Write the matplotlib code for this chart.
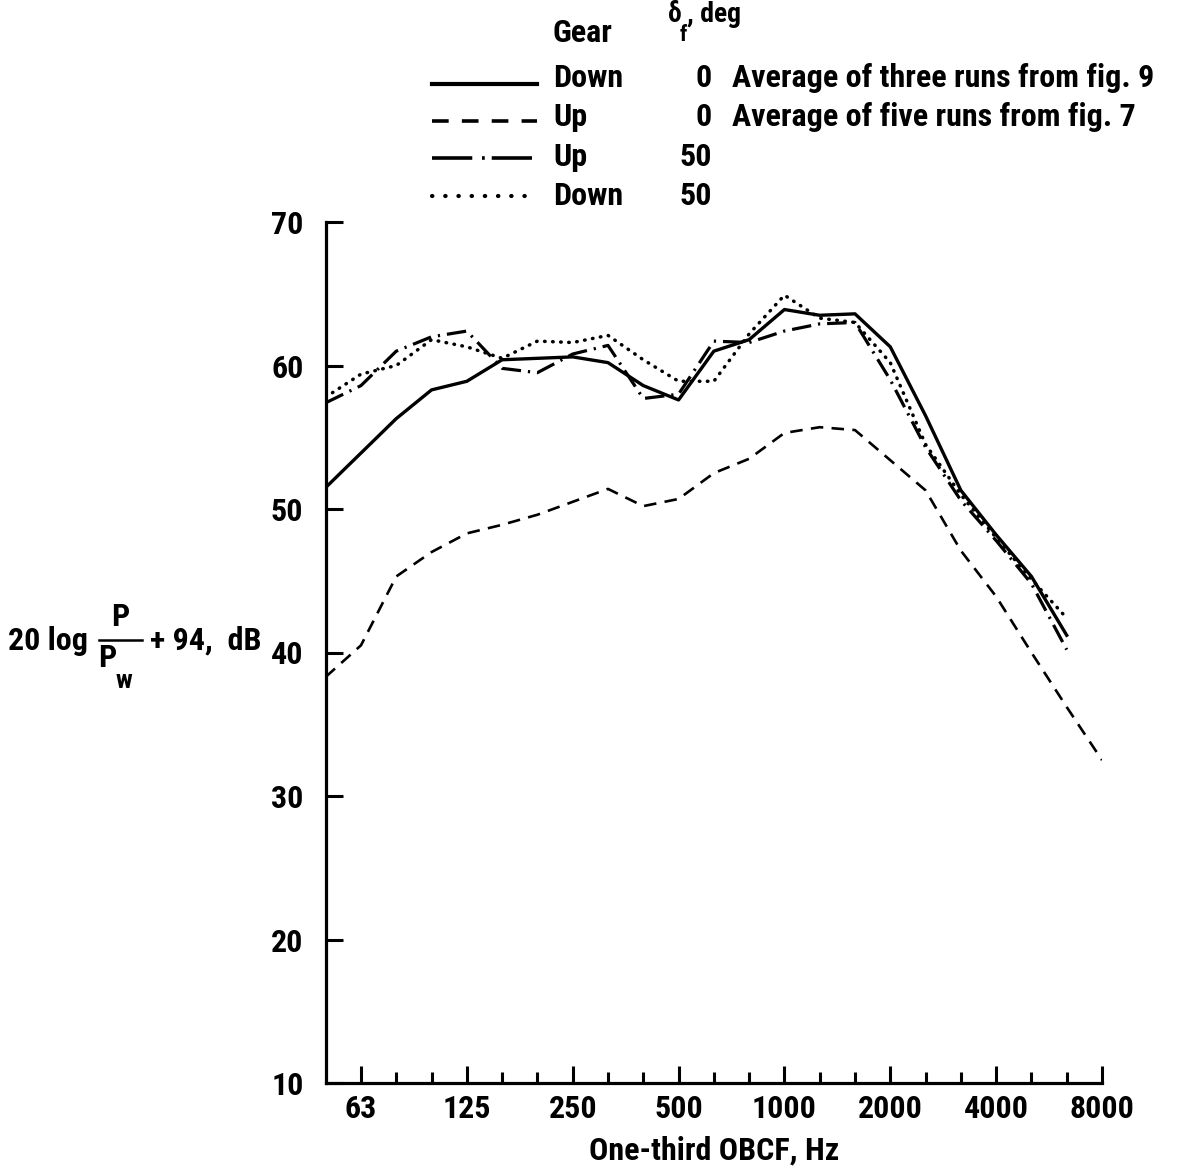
import numpy as np
import matplotlib
matplotlib.use("Agg")
import matplotlib.pyplot as plt
from matplotlib.lines import Line2D
from matplotlib import font_manager as fm

_have = {f.name for f in fm.fontManager.ttflist}
_cands = ['Roboto Condensed', 'Archivo Narrow', 'PT Sans Narrow', 'Fira Sans Condensed',
          'Liberation Sans Narrow', 'Roboto']
FAM = [c for c in _cands if c in _have] + ['DejaVu Sans']
plt.rcParams['font.family'] = FAM
plt.rcParams['lines.scale_dashes'] = False

# ---- data -------------------------------------------------------------
band_hz = [50, 63, 80, 100, 125, 160, 200, 250, 315, 400, 500, 630, 800,
           1000, 1250, 1600, 2000, 2500, 3150, 4000, 5000, 6300, 8000]
octave_labels = [63, 125, 250, 500, 1000, 2000, 4000, 8000]
y_ticks = [10, 20, 30, 40, 50, 60, 70]

# Gear down, flaps 0 (average of three runs, fig. 9)
down_0 = [51.5, 53.9, 56.3, 58.3, 58.9, 60.4, 60.5, 60.6, 60.2, 58.6, 57.6,
          61.0, 61.8, 63.9, 63.5, 63.6, 61.3, 56.5, 51.3, 48.2, 45.3, 41.2]
# Gear up, flaps 0 (average of five runs, fig. 7)
up_0 = [38.3, 40.5, 45.3, 47.0, 48.3, 48.9, 49.6, 50.5, 51.4, 50.2, 50.7,
        52.5, 53.5, 55.3, 55.7, 55.5, 53.4, 51.3, 47.1, 43.9, 40.0, 36.2, 32.5]
# Gear up, flaps 50
up_50 = [57.4, 58.6, 61.0, 62.0, 62.4, 59.8, 59.5, 60.8, 61.4, 57.7, 58.0,
         61.7, 61.6, 62.4, 62.9, 63.0, 59.0, 54.3, 50.6, 47.8, 44.8, 40.2]
# Gear down, flaps 50
down_50 = [57.8, 59.4, 60.0, 61.8, 61.3, 60.5, 61.7, 61.6, 62.1, 60.4, 58.9,
           58.9, 62.2, 64.9, 63.3, 63.0, 60.2, 54.5, 51.0, 48.0, 45.1, 42.4]

legend_gear = ["Down", "Up", "Up", "Down"]
legend_flap = ["0", "0", "50", "50"]
legend_note = ["Average of three runs from fig. 9",
               "Average of five runs from fig. 7", "", ""]

# ---- figure -------------------------------------------------------------
W, H = 1183, 1172
fig = plt.figure(figsize=(W / 100, H / 100), dpi=100)
ax = fig.add_axes([325.7 / W, 1 - 1083 / H, (1102 - 325.7) / W, (1083 - 222) / H])

x = np.arange(len(band_hz))
solid_style = dict(color='black', lw=2.4, linestyle='-', solid_joinstyle='round')
dash_style = dict(color='black', lw=1.9, linestyle=(0, (9, 6)))
dashdot_style = dict(color='black', lw=2.3, linestyle=(0, (14, 5, 1.6, 5)))
dot_style = dict(color='black', lw=2.5, linestyle=(0, (0.4, 5.4)),
                 dash_capstyle='round')

ax.plot(x[:len(down_0)], down_0, **solid_style)
ax.plot(x[:len(up_0)], up_0, **dash_style)
ax.plot(x[:len(up_50)], up_50, **dashdot_style)
ax.plot(x[:len(down_50)], down_50, **dot_style)

ax.set_xlim(0, len(band_hz) - 1)
ax.set_ylim(10, 70)
for s in ['top', 'right']:
    ax.spines[s].set_visible(False)
for s in ['left', 'bottom']:
    ax.spines[s].set_linewidth(2.3)

major_idx = [band_hz.index(f) for f in octave_labels]
minor_idx = [i for i in range(1, len(band_hz)) if i not in major_idx]
ax.set_xticks(major_idx)
ax.set_xticklabels([str(f) for f in octave_labels])
ax.set_xticks(minor_idx, minor=True)
ax.set_yticks(y_ticks)
ax.set_yticklabels([str(v) for v in y_ticks])

FS = 23
ax.tick_params(axis='x', which='major', direction='in', length=12.5, width=2.2,
               labelsize=FS, pad=8)
ax.tick_params(axis='x', which='minor', direction='in', length=8, width=2.2)
ax.tick_params(axis='y', which='major', direction='in', length=12, width=2.2,
               labelsize=FS, pad=16)
for lab in ax.get_xticklabels() + ax.get_yticklabels():
    lab.set_fontweight('bold')

ax.set_xlabel("One-third OBCF, Hz", fontsize=FS, fontweight='bold', labelpad=8)


def ft(px, py, s, **kw):
    kw.setdefault('fontsize', FS)
    kw.setdefault('fontweight', 'bold')
    fig.text(px / W, 1 - py / H, s, **kw)


# ---- y-axis label built from pieces ----
ft(8, 641, "20 log", ha='left', va='center')
ft(120, 617, "P", ha='center', va='center')
fig.add_artist(Line2D([99 / W, 142 / W], [1 - 640 / H, 1 - 640 / H],
                      color='black', lw=1.8))
ft(107, 658, "P", ha='center', va='center')
ft(124, 681, "w", ha='center', va='center', fontsize=19)
ft(262, 641, "+ 94,  dB", ha='right', va='center')

# ---- legend (manual) ----
ft(553, 33, "Gear", ha='left', va='center')
ft(668, 14, "\u03b4", ha='left', va='center', fontsize=20)
ft(680, 35, "f", ha='left', va='center', fontsize=16)
ft(687, 14, ", deg", ha='left', va='center', fontsize=20)

text_y = [78, 117, 157, 196]
line_y = [84, 121, 158, 196]
leg_styles = [
    dict(color='black', lw=3.0, linestyle='-'),
    dict(color='black', lw=2.6, linestyle=(0, (12, 9.5))),
    dict(color='black', lw=2.6, linestyle=(0, (29, 7, 2, 5))),
    dict(color='black', lw=3.0, linestyle=(0, (0.3, 9.2)), dash_capstyle='round'),
]
for ty, lyp, st, g, fl, note in zip(text_y, line_y, leg_styles,
                                     legend_gear, legend_flap, legend_note):
    ly = 1 - lyp / H
    fig.add_artist(Line2D([432 / W, 537 / W], [ly, ly], **st))
    ft(553, ty, g, ha='left', va='center')
    ft(712, ty, fl, ha='right', va='center')
    if note:
        ft(732, ty, note, ha='left', va='center')

fig.savefig("out.png", dpi=100)
